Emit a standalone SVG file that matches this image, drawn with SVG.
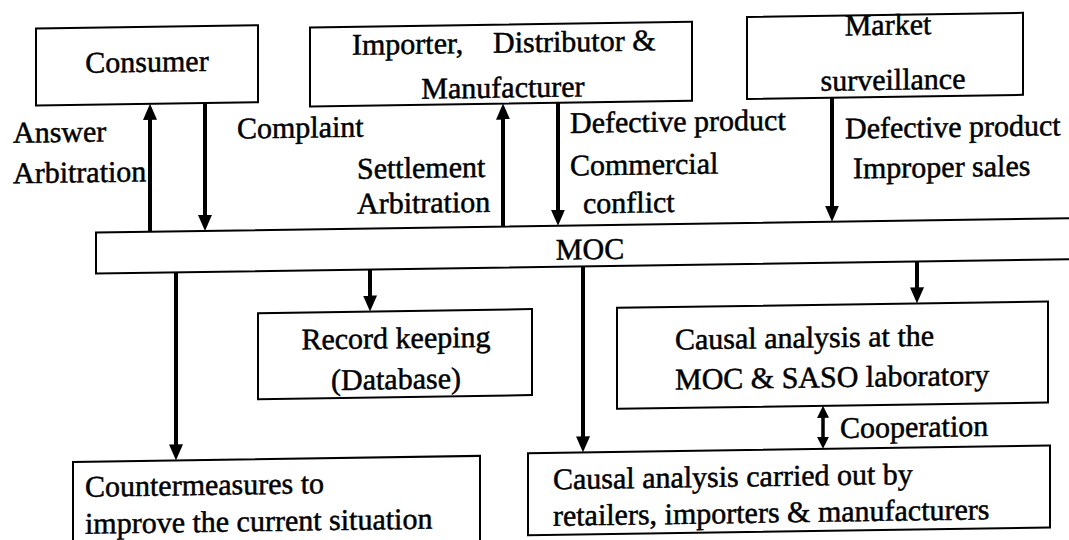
<svg xmlns="http://www.w3.org/2000/svg" width="1069" height="540" viewBox="0 0 1069 540">
  <style>
    .box { fill: #ffffff; stroke: #000000; stroke-width: 2; }
    .bar { fill: #ffffff; stroke: #000000; stroke-width: 2; }
    .lbl { font-family: "Liberation Serif", "Times New Roman", serif; font-size: 30px; fill: #000000; stroke: #000000; stroke-width: 0.5; }
    .mid { text-anchor: middle; }
    .arr { stroke: #000000; stroke-width: 4; fill: none; }
    .arr-s { stroke: #000000; stroke-width: 3.5; fill: none; }
  </style>
  <defs>
    <marker id="head" markerUnits="userSpaceOnUse" markerWidth="16" markerHeight="14" refX="8" refY="7" orient="auto-start-reverse">
      <path d="M0,0 L16,7 L0,14 Z" fill="#000000"/>
    </marker>
    <marker id="head-small" markerUnits="userSpaceOnUse" markerWidth="12" markerHeight="12" refX="6" refY="6" orient="auto-start-reverse">
      <path d="M0,0 L12,6 L0,12 Z" fill="#000000"/>
    </marker>
  </defs>
  <rect x="0" y="0" width="1069" height="540" fill="#ffffff"/>

  <!-- whole sheet is slightly sheared: horizontals fall to the left -->
  <g transform="skewY(-0.85)">

    <!-- central MOC band -->
    <g id="moc">
      <rect class="bar" x="96" y="234" width="990" height="41"/>
      <text class="lbl mid" x="590" y="268">MOC</text>
    </g>

    <g id="consumer">
      <rect class="box" x="36" y="29" width="222" height="77"/>
      <text class="lbl mid" x="147" y="74">Consumer</text>
    </g>

    <g id="importer">
      <rect class="box" x="310" y="32" width="382" height="79"/>
      <text class="lbl" x="352" y="60">Importer,</text>
      <text class="lbl" x="493" y="60">Distributor &amp;</text>
      <text class="lbl mid" x="503" y="105">Manufacturer</text>
    </g>

    <g id="market">
      <rect class="box" x="747" y="28" width="276" height="82"/>
      <text class="lbl mid" x="888" y="48">Market</text>
      <text class="lbl mid" x="893" y="103">surveillance</text>
    </g>

    <g id="record">
      <rect class="box" x="258" y="317" width="274" height="86"/>
      <text class="lbl mid" x="396" y="354">Record keeping</text>
      <text class="lbl mid" x="396" y="395">(Database)</text>
    </g>

    <g id="countermeasures">
      <rect class="box" x="73" y="463" width="407" height="95"/>
      <text class="lbl" x="85" y="498">Countermeasures to</text>
      <text class="lbl" x="85" y="535">improve the current situation</text>
    </g>

    <g id="lab-analysis">
      <rect class="box" x="617" y="317" width="431" height="101"/>
      <text class="lbl" x="675" y="359.5">Causal analysis at the</text>
      <text class="lbl" x="675" y="399.5">MOC &amp; SASO laboratory</text>
    </g>

    <g id="trade-analysis">
      <rect class="box" x="528" y="461" width="522" height="82"/>
      <text class="lbl" x="553" y="497.5">Causal analysis carried out by</text>
      <text class="lbl" x="553" y="534">retailers, importers &amp; manufacturers</text>
    </g>

    <!-- connectors -->
    <g id="connectors">
      <line class="arr" x1="150" y1="234" x2="150" y2="114" marker-end="url(#head)"/>
      <line class="arr" x1="205" y1="106" x2="205" y2="226" marker-end="url(#head)"/>
      <line class="arr" x1="503" y1="234" x2="503" y2="119" marker-end="url(#head)"/>
      <line class="arr" x1="558" y1="111" x2="558" y2="226" marker-end="url(#head)"/>
      <line class="arr" x1="832" y1="110" x2="832" y2="226" marker-end="url(#head)"/>
      <line class="arr" x1="176" y1="275" x2="176" y2="455" marker-end="url(#head)"/>
      <line class="arr" x1="370" y1="275" x2="370" y2="309" marker-end="url(#head)"/>
      <line class="arr" x1="583" y1="275" x2="583" y2="453" marker-end="url(#head)"/>
      <line class="arr" x1="917" y1="275" x2="917" y2="309" marker-end="url(#head)"/>
      <line class="arr-s" x1="823" y1="424" x2="823" y2="455" marker-start="url(#head-small)" marker-end="url(#head-small)"/>
    </g>

    <!-- connector labels -->
    <g id="labels">
      <text class="lbl" x="13" y="143">Answer</text>
      <text class="lbl" x="13" y="183.5">Arbitration</text>
      <text class="lbl" x="237" y="142">Complaint</text>
      <text class="lbl" x="357" y="184">Settlement</text>
      <text class="lbl" x="357" y="219">Arbitration</text>
      <text class="lbl" x="570" y="141.5">Defective product</text>
      <text class="lbl" x="570" y="184">Commercial</text>
      <text class="lbl" x="583" y="222">conflict</text>
      <text class="lbl" x="845" y="151">Defective product</text>
      <text class="lbl" x="853" y="191">Improper sales</text>
      <text class="lbl" x="840" y="450.5">Cooperation</text>
    </g>
  </g>
</svg>
